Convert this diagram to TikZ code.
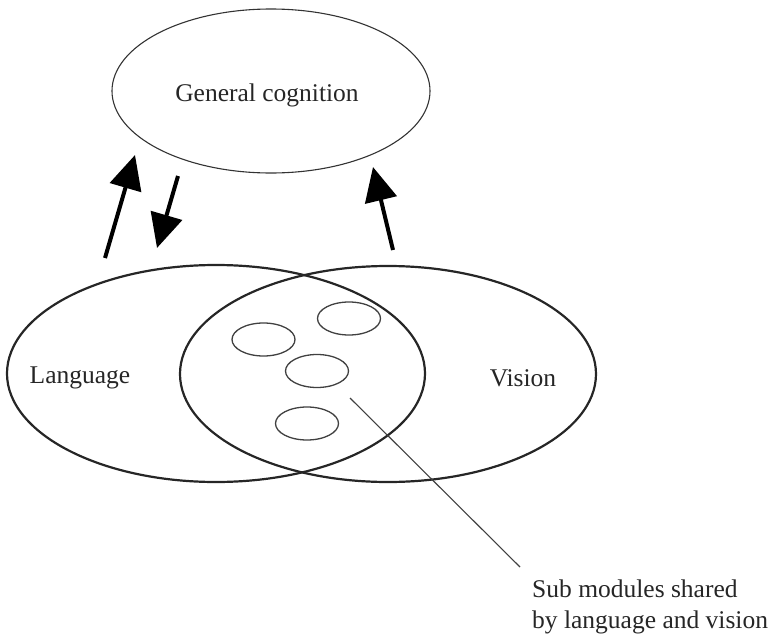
\documentclass[tikz,border=0pt]{standalone}
\usepackage{fontspec}
\setmainfont{Liberation Serif}
\usetikzlibrary{shapes.geometric,arrows.meta}
\begin{document}
\begin{tikzpicture}[x=1pt,y=-1pt,
  bigell/.style={draw=black!85,line width=2.2pt,ellipse,inner sep=0pt},
  subell/.style={draw=black!75,line width=1.3pt,ellipse,inner sep=0pt,minimum width=63pt,minimum height=33pt},
  fatarrow/.style={line width=4pt,-{Triangle[length=34pt,width=32pt]}},
  lbl/.style={font=\fontsize{25.5}{31}\selectfont,text=black!85,inner sep=0pt}]
\useasboundingbox (0,0) rectangle (772,640);
\node[draw=black!80,line width=1.1pt,ellipse,inner sep=0pt,minimum width=318pt,minimum height=164pt] (gc) at (271,91) {};
\node[lbl] (gctext) at (267,95) {General cognition};
\node[bigell,minimum width=418pt,minimum height=217pt] (lang) at (216,373.5) {};
\node[bigell,minimum width=416pt,minimum height=216pt] (vis) at (388,374) {};
\node[lbl] (langtext) at (80,378) {Language};
\node[lbl] (vistext) at (523,378) {Vision};
\node[subell] (s1) at (263.5,339.5) {};
\node[subell] (s2) at (349,318.5) {};
\node[subell] (s3) at (317,371) {};
\node[subell] (s4) at (307,423.5) {};
\coordinate (a1s) at (105,258);
\coordinate (a1e) at (135,155);
\coordinate (a2s) at (178,176);
\coordinate (a2e) at (157,248);
\coordinate (a3s) at (393,250);
\coordinate (a3e) at (373,167);
\draw[fatarrow] (a1s) -- (a1e);
\draw[fatarrow] (a2s) -- (a2e);
\draw[fatarrow] (a3s) -- (a3e);
\coordinate (ls) at (350,398);
\coordinate (le) at (520,567);
\draw[line width=1.1pt,draw=black!75] (ls) -- (le);
\node[lbl,anchor=north west,align=left] (note) at (532,580) {Sub modules shared\\by language and vision};
\end{tikzpicture}
\end{document}
